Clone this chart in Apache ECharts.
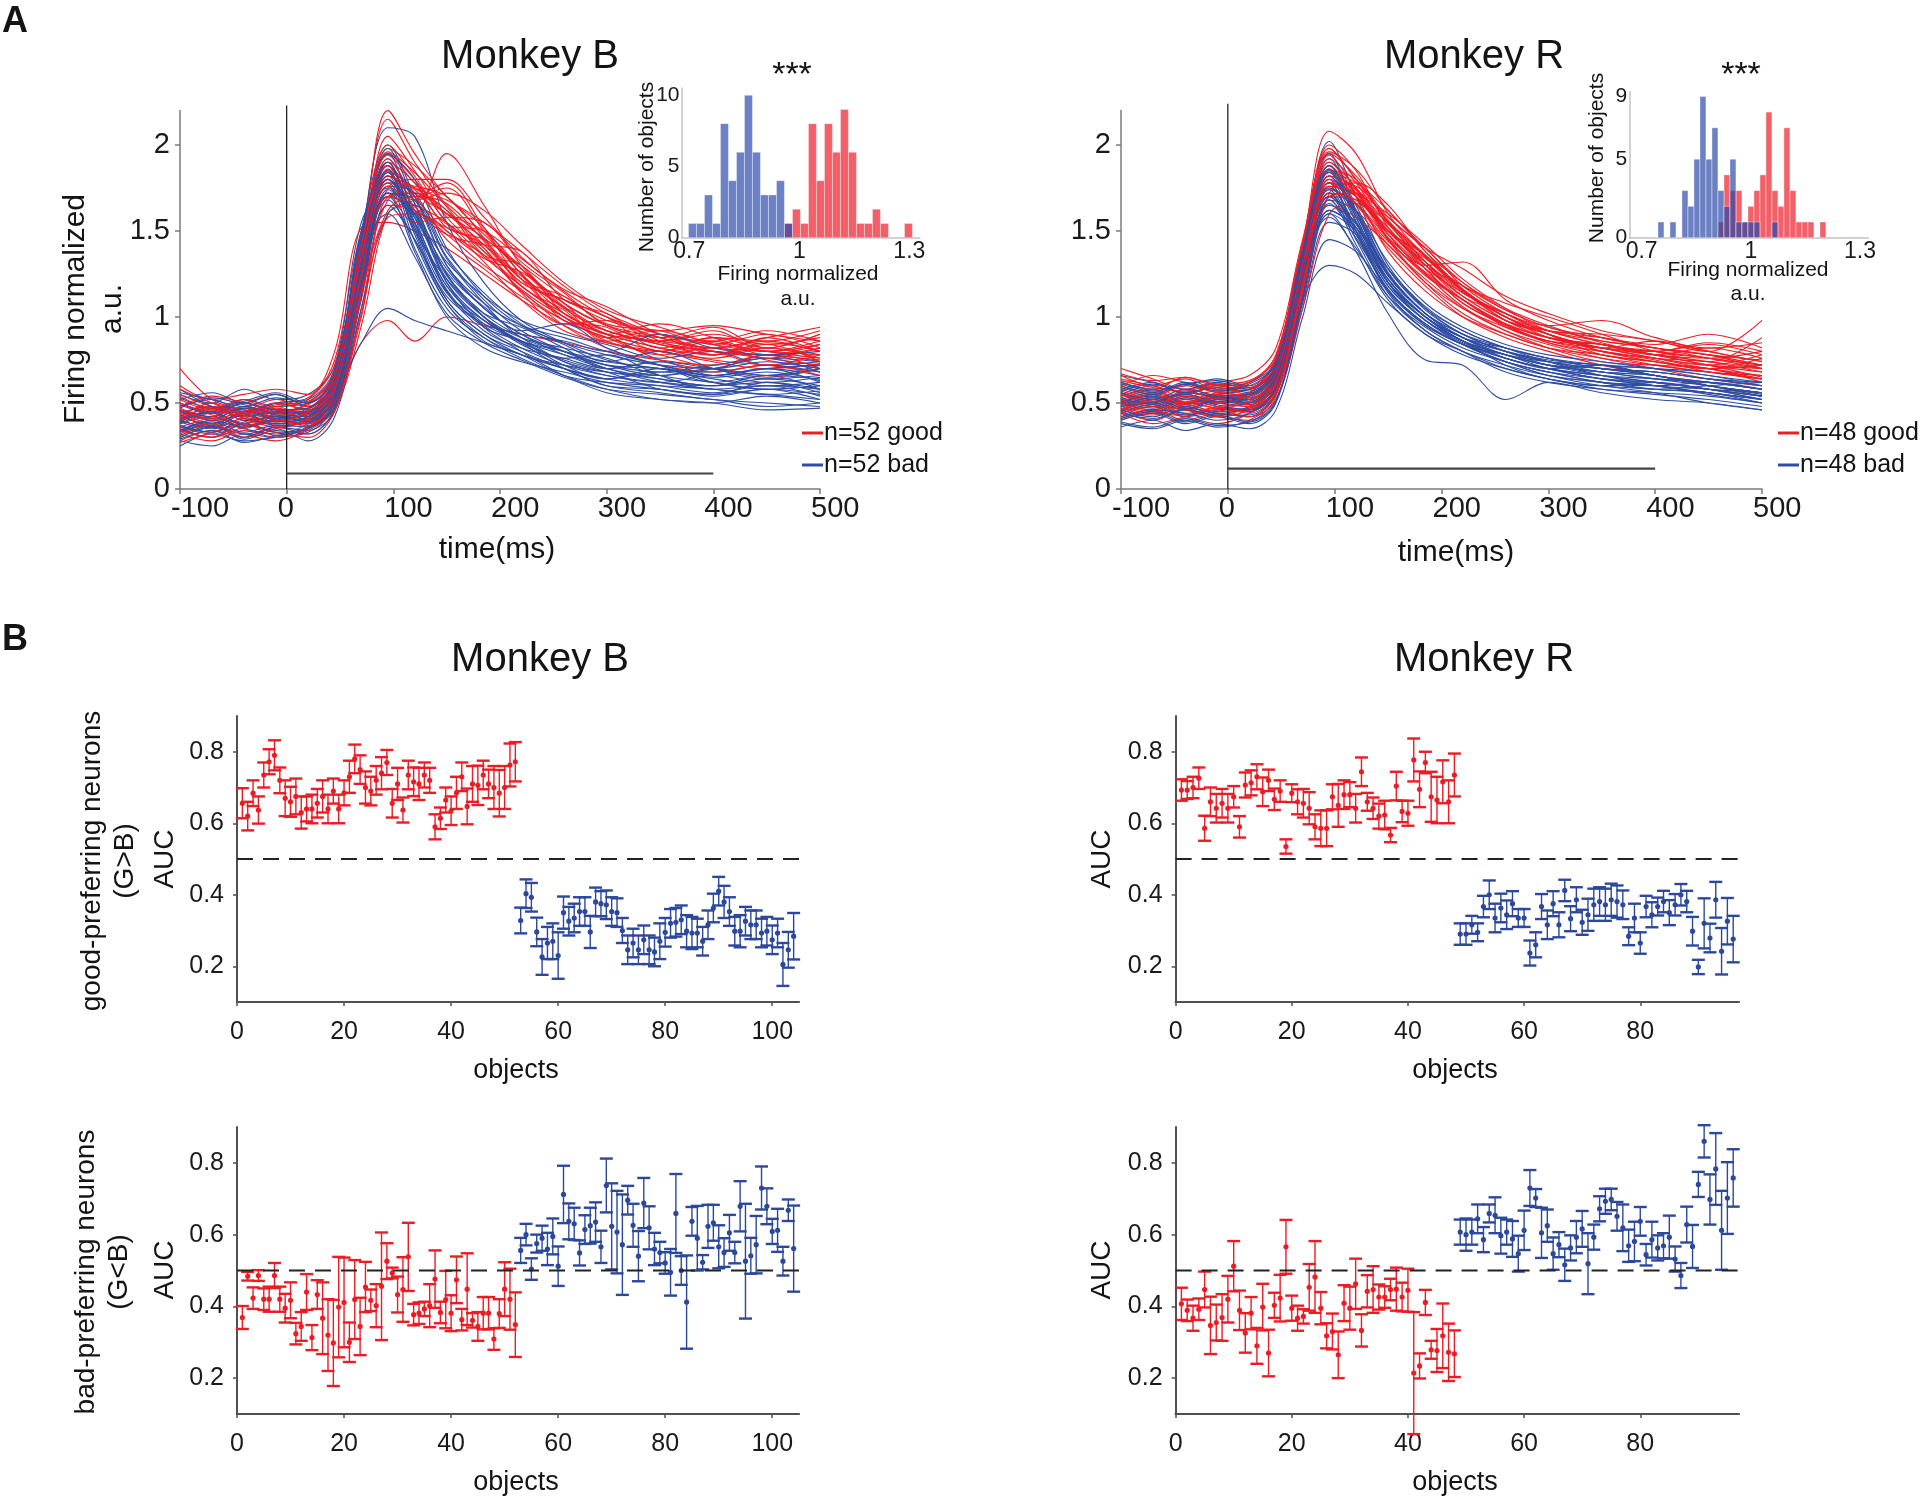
<!DOCTYPE html>
<html>
<head>
<meta charset="utf-8">
<script src="https://cdn.jsdelivr.net/npm/echarts@6/dist/echarts.min.js"></script>
<style>
html,body{margin:0;padding:0;background:#fff;}
#chart{width:1920px;height:1497px;}
</style>
</head>
<body>
<div id="chart"></div>
<script>
// ---------- DATA ----------
// time points (ms) of the firing-rate traces
const timePoints = [-100,-70,-40,-10,20,45,70,95,120,150,185,220,260,300,350,400,450,500];

// Monkey B, good-object responses (red)
const tracesGoodB = [
 [0.45,0.38,0.47,0.40,0.44,0.62,1.35,1.95,1.80,1.55,1.32,1.10,0.92,0.85,0.80,0.76,0.82,0.78],
 [0.38,0.44,0.35,0.42,0.40,0.55,1.20,1.85,1.75,1.62,1.40,1.15,0.98,0.88,0.78,0.82,0.75,0.70],
 [0.52,0.46,0.50,0.55,0.48,0.70,1.45,2.15,1.90,1.65,1.45,1.22,1.00,0.90,0.82,0.78,0.85,0.80],
 [0.30,0.36,0.32,0.28,0.35,0.48,1.05,1.70,1.72,1.60,1.50,1.28,1.05,0.92,0.85,0.80,0.76,0.72],
 [0.42,0.50,0.44,0.48,0.52,0.75,1.50,1.80,1.60,1.95,1.65,1.30,1.08,0.95,0.88,0.80,0.78,0.82],
 [0.35,0.30,0.38,0.33,0.30,0.45,0.95,1.60,1.68,1.75,1.50,1.25,1.02,0.90,0.75,0.70,0.78,0.74],
 [0.60,0.52,0.55,0.58,0.55,0.80,1.52,1.55,1.50,1.40,1.25,1.10,0.95,0.85,0.80,0.88,0.82,0.90],
 [0.40,0.45,0.42,0.38,0.42,0.58,1.30,2.05,1.85,1.58,1.38,1.18,1.02,0.90,0.82,0.75,0.72,0.68],
 [0.33,0.40,0.36,0.40,0.38,0.52,0.85,0.98,0.86,1.00,0.95,0.90,0.85,0.80,0.75,0.72,0.78,0.70],
 [0.47,0.42,0.48,0.45,0.50,0.68,1.40,1.90,1.78,1.52,1.45,1.30,1.12,1.00,0.90,0.85,0.80,0.76],
 [0.28,0.34,0.30,0.36,0.32,0.46,1.00,1.65,1.62,1.48,1.30,1.15,0.95,0.82,0.72,0.68,0.72,0.66],
 [0.50,0.44,0.52,0.46,0.45,0.64,1.38,2.20,1.95,1.70,1.52,1.25,1.05,0.92,0.86,0.90,0.84,0.88],
 [0.44,0.48,0.40,0.45,0.47,0.60,1.25,1.75,1.80,1.80,1.58,1.35,1.15,1.00,0.88,0.82,0.86,0.80],
 [0.36,0.32,0.38,0.42,0.36,0.50,1.15,1.82,1.70,1.45,1.28,1.12,0.98,0.88,0.80,0.74,0.70,0.73],
 [0.55,0.48,0.45,0.50,0.53,0.72,1.42,1.88,1.72,1.60,1.42,1.20,1.10,0.98,0.92,0.95,0.90,0.86],
 [0.40,0.36,0.44,0.37,0.39,0.54,1.18,1.70,1.65,1.55,1.35,1.18,1.00,0.86,0.78,0.70,0.65,0.70],
 [0.48,0.54,0.50,0.46,0.44,0.62,1.32,1.98,1.88,1.70,1.48,1.28,1.08,0.95,0.84,0.80,0.78,0.75],
 [0.32,0.28,0.34,0.30,0.34,0.47,1.02,1.58,1.60,1.52,1.42,1.22,1.06,0.92,0.84,0.78,0.82,0.76],
 [0.46,0.40,0.43,0.48,0.42,0.60,1.30,1.85,1.75,1.68,1.55,1.38,1.18,1.02,0.90,0.84,0.80,0.84],
 [0.70,0.52,0.46,0.44,0.50,0.66,1.36,1.92,1.70,1.50,1.36,1.16,1.00,0.90,0.86,0.82,0.80,0.78],
 [0.42,0.50,0.40,0.47,0.43,0.60,1.28,1.88,1.70,1.78,1.52,1.22,1.12,0.96,0.92,0.84,0.90,0.82],
 [0.36,0.42,0.48,0.40,0.38,0.56,1.22,1.80,1.62,1.48,1.42,1.38,1.10,1.02,0.86,0.92,0.80,0.86],
 [0.50,0.43,0.38,0.44,0.49,0.64,1.34,1.96,1.84,1.64,1.38,1.24,0.98,0.94,0.80,0.86,0.78,0.84],
 [0.32,0.38,0.30,0.35,0.40,0.55,1.26,1.78,1.76,1.70,1.46,1.18,1.04,0.86,0.90,0.78,0.84,0.74],
 [0.44,0.36,0.42,0.50,0.46,0.62,1.30,1.72,1.55,1.58,1.55,1.32,1.14,0.95,0.88,0.94,0.82,0.90],
 [0.27,0.33,0.38,0.31,0.36,0.50,1.12,1.68,1.72,1.62,1.36,1.30,1.02,0.92,0.84,0.80,0.72,0.78],
 [0.54,0.47,0.52,0.43,0.46,0.66,1.40,2.00,1.82,1.55,1.40,1.14,0.96,0.98,0.86,0.78,0.88,0.80],
 [0.39,0.46,0.41,0.36,0.41,0.56,1.24,1.76,1.68,1.72,1.62,1.42,1.20,1.04,0.94,0.86,0.92,0.86],
 [0.46,0.41,0.45,0.52,0.48,0.63,1.35,1.84,1.64,1.50,1.34,1.26,1.08,0.90,0.96,0.88,0.80,0.84],
 [0.34,0.30,0.36,0.40,0.37,0.51,1.14,1.62,1.70,1.66,1.44,1.20,1.10,1.00,0.82,0.88,0.86,0.92],
 [0.58,0.50,0.44,0.49,0.51,0.68,1.42,1.94,1.78,1.60,1.46,1.28,1.06,0.88,0.92,0.84,0.76,0.82],
 [0.41,0.47,0.43,0.39,0.45,0.58,1.27,1.82,1.74,1.54,1.50,1.34,1.16,1.06,0.90,0.82,0.88,0.94]
];
// Monkey B, bad-object responses (blue)
const tracesBadB = [
 [0.40,0.48,0.42,0.45,0.40,0.60,1.40,1.90,1.55,1.15,0.95,0.82,0.72,0.66,0.62,0.60,0.64,0.60],
 [0.35,0.30,0.38,0.33,0.36,0.52,1.25,1.80,1.60,1.20,0.98,0.85,0.75,0.68,0.58,0.55,0.58,0.55],
 [0.48,0.52,0.45,0.50,0.46,0.66,1.50,2.00,1.70,1.30,1.05,0.90,0.80,0.72,0.70,0.66,0.70,0.66],
 [0.25,0.32,0.28,0.30,0.33,0.45,1.10,1.70,1.62,1.25,1.00,0.85,0.70,0.60,0.56,0.52,0.50,0.48],
 [0.42,0.38,0.44,0.40,0.38,0.55,1.35,1.85,1.50,1.10,0.90,0.80,0.70,0.64,0.68,0.64,0.60,0.62],
 [0.55,0.50,0.58,0.52,0.55,0.72,1.55,1.75,1.40,1.05,0.88,0.78,0.72,0.68,0.66,0.70,0.66,0.72],
 [0.30,0.36,0.32,0.35,0.28,0.42,1.05,1.60,1.65,1.35,1.10,0.92,0.80,0.70,0.62,0.58,0.55,0.52],
 [0.45,0.40,0.48,0.44,0.42,0.58,1.30,1.95,1.80,1.40,1.12,0.95,0.85,0.78,0.72,0.70,0.74,0.70],
 [0.38,0.42,0.36,0.40,0.44,0.55,0.85,1.05,0.98,0.92,0.85,0.78,0.70,0.64,0.60,0.56,0.60,0.58],
 [0.50,0.45,0.52,0.48,0.50,0.65,1.45,2.10,2.05,1.55,1.20,0.98,0.85,0.75,0.70,0.68,0.72,0.68],
 [0.33,0.38,0.30,0.36,0.34,0.50,1.18,1.65,1.45,1.08,0.88,0.76,0.66,0.58,0.52,0.50,0.54,0.50],
 [0.44,0.48,0.46,0.42,0.47,0.62,1.38,1.78,1.52,1.18,0.96,0.86,0.78,0.72,0.68,0.72,0.76,0.74],
 [0.36,0.33,0.40,0.38,0.40,0.54,1.28,1.88,1.62,1.22,1.00,0.88,0.82,0.76,0.66,0.62,0.58,0.60],
 [0.52,0.56,0.50,0.55,0.48,0.64,1.42,1.70,1.38,1.00,0.82,0.74,0.68,0.62,0.58,0.55,0.62,0.58],
 [0.28,0.25,0.32,0.30,0.36,0.48,1.12,1.72,1.58,1.28,1.05,0.90,0.78,0.70,0.64,0.60,0.66,0.64],
 [0.41,0.44,0.38,0.43,0.39,0.56,1.32,1.92,1.66,1.25,1.02,0.88,0.74,0.66,0.62,0.66,0.62,0.65],
 [0.46,0.42,0.50,0.45,0.44,0.60,1.36,1.60,1.35,1.02,0.85,0.75,0.65,0.58,0.55,0.52,0.48,0.50],
 [0.34,0.40,0.35,0.32,0.38,0.52,1.22,1.82,1.70,1.30,1.08,0.95,0.88,0.80,0.72,0.66,0.70,0.72],
 [0.58,0.48,0.44,0.50,0.52,0.70,1.48,1.95,1.58,1.15,0.92,0.82,0.76,0.70,0.74,0.70,0.66,0.70],
 [0.39,0.35,0.41,0.37,0.41,0.55,1.26,1.76,1.55,1.18,0.98,0.86,0.80,0.74,0.70,0.65,0.68,0.63],
 [0.43,0.37,0.45,0.41,0.43,0.59,1.37,1.86,1.50,1.22,1.02,0.94,0.82,0.70,0.74,0.66,0.70,0.62],
 [0.31,0.37,0.29,0.34,0.32,0.47,1.14,1.74,1.60,1.32,1.12,0.98,0.90,0.84,0.76,0.80,0.72,0.74],
 [0.47,0.53,0.49,0.44,0.45,0.62,1.44,1.98,1.66,1.20,0.94,0.80,0.66,0.56,0.52,0.50,0.46,0.47],
 [0.37,0.33,0.39,0.42,0.39,0.53,1.24,1.84,1.58,1.26,1.06,0.92,0.96,0.82,0.72,0.62,0.66,0.58],
 [0.53,0.47,0.51,0.56,0.50,0.66,1.46,1.82,1.44,1.08,0.86,0.78,0.66,0.62,0.60,0.58,0.55,0.57],
 [0.29,0.34,0.27,0.31,0.35,0.48,1.16,1.76,1.72,1.38,1.14,0.96,0.84,0.74,0.80,0.70,0.64,0.66],
 [0.45,0.41,0.47,0.43,0.41,0.57,1.33,1.90,1.54,1.16,0.94,0.86,0.74,0.68,0.64,0.60,0.62,0.56],
 [0.39,0.45,0.37,0.41,0.45,0.59,1.30,1.68,1.45,1.12,0.96,0.90,0.86,0.80,0.90,0.82,0.78,0.80],
 [0.49,0.44,0.50,0.46,0.47,0.63,1.40,1.84,1.48,1.10,0.90,0.78,0.70,0.60,0.58,0.54,0.58,0.52],
 [0.34,0.39,0.33,0.37,0.36,0.51,1.20,1.72,1.68,1.34,1.08,0.88,0.80,0.72,0.66,0.70,0.76,0.68],
 [0.56,0.52,0.48,0.53,0.50,0.68,1.50,1.90,1.52,1.14,0.98,0.86,0.72,0.64,0.70,0.62,0.58,0.60],
 [0.40,0.36,0.43,0.39,0.42,0.55,1.28,1.80,1.60,1.24,1.00,0.84,0.76,0.78,0.66,0.58,0.60,0.54]
];
// Monkey R, good-object responses (red)
const tracesGoodR = [
 [0.55,0.60,0.52,0.56,0.58,0.70,1.30,1.90,1.75,1.45,1.20,1.02,0.90,0.82,0.76,0.72,0.68,0.66],
 [0.48,0.44,0.50,0.47,0.45,0.60,1.20,1.85,1.80,1.55,1.30,1.10,0.95,0.85,0.78,0.74,0.70,0.72],
 [0.62,0.58,0.65,0.60,0.62,0.78,1.42,2.08,1.95,1.60,1.35,1.15,1.00,0.90,0.82,0.80,0.85,0.80],
 [0.42,0.46,0.40,0.44,0.42,0.55,1.10,1.72,1.78,1.65,1.38,1.20,1.05,0.95,0.85,0.78,0.72,0.65],
 [0.52,0.50,0.56,0.53,0.50,0.66,1.28,1.80,1.70,1.48,1.30,1.32,1.10,0.98,0.88,0.82,0.78,0.75],
 [0.70,0.64,0.58,0.62,0.66,0.82,1.45,1.95,1.82,1.58,1.40,1.18,1.02,0.92,0.90,0.86,0.80,0.98],
 [0.45,0.40,0.46,0.42,0.40,0.54,1.12,1.68,1.62,1.40,1.18,1.00,0.88,0.80,0.72,0.66,0.62,0.58],
 [0.58,0.54,0.60,0.56,0.55,0.70,1.35,2.00,1.85,1.52,1.28,1.08,0.95,0.86,0.80,0.76,0.74,0.70],
 [0.50,0.55,0.48,0.52,0.54,0.68,1.25,1.78,1.72,1.60,1.42,1.22,1.05,0.92,0.84,0.78,0.82,0.76],
 [0.40,0.44,0.42,0.38,0.44,0.58,1.15,1.75,1.65,1.42,1.22,1.05,0.92,0.84,0.76,0.70,0.64,0.60],
 [0.60,0.66,0.62,0.58,0.60,0.74,1.38,1.92,1.78,1.50,1.32,1.15,1.02,0.95,0.98,0.88,0.82,0.85],
 [0.46,0.50,0.44,0.48,0.50,0.62,1.22,1.82,1.75,1.48,1.25,1.06,0.92,0.82,0.74,0.72,0.70,0.62],
 [0.56,0.52,0.58,0.54,0.52,0.66,1.32,1.88,1.70,1.38,1.15,1.00,0.90,0.82,0.78,0.72,0.68,0.64],
 [0.52,0.48,0.54,0.50,0.56,0.72,1.36,1.70,1.68,1.55,1.35,1.15,0.98,0.88,0.82,0.76,0.72,0.70],
 [0.44,0.38,0.42,0.46,0.42,0.52,1.05,1.60,1.66,1.50,1.30,1.12,0.98,0.90,0.80,0.74,0.70,0.76],
 [0.64,0.60,0.56,0.60,0.58,0.72,1.40,1.98,1.80,1.55,1.35,1.18,1.08,1.00,0.90,0.80,0.76,0.72],
 [0.50,0.46,0.52,0.48,0.46,0.60,1.18,1.76,1.70,1.45,1.25,1.10,0.96,0.85,0.80,0.75,0.68,0.64],
 [0.54,0.58,0.50,0.55,0.52,0.64,1.26,1.84,1.78,1.62,1.38,1.16,1.00,0.90,0.82,0.78,0.72,0.68],
 [0.48,0.52,0.55,0.50,0.48,0.62,1.24,1.65,1.58,1.42,1.20,1.05,0.94,0.86,0.82,0.80,0.76,0.72],
 [0.66,0.60,0.64,0.58,0.62,0.76,1.40,1.90,1.72,1.48,1.28,1.08,0.96,0.88,0.84,0.80,0.84,0.78],
 [0.53,0.57,0.50,0.54,0.56,0.69,1.29,1.86,1.72,1.50,1.36,1.16,0.98,0.90,0.80,0.76,0.72,0.78],
 [0.46,0.51,0.47,0.43,0.48,0.61,1.21,1.78,1.76,1.56,1.32,1.12,1.02,0.92,0.86,0.82,0.76,0.70],
 [0.60,0.55,0.61,0.57,0.58,0.73,1.37,1.94,1.74,1.46,1.24,1.10,0.94,0.86,0.84,0.78,0.74,0.68],
 [0.41,0.45,0.43,0.47,0.44,0.56,1.13,1.70,1.72,1.58,1.40,1.28,1.12,1.02,0.92,0.86,0.80,0.74],
 [0.57,0.53,0.55,0.59,0.55,0.70,1.33,1.84,1.70,1.52,1.30,1.12,0.98,0.92,0.88,0.84,0.90,0.82],
 [0.49,0.45,0.51,0.47,0.51,0.63,1.23,1.74,1.66,1.46,1.28,1.14,1.00,0.88,0.82,0.76,0.70,0.66],
 [0.63,0.59,0.57,0.61,0.59,0.75,1.41,1.96,1.86,1.62,1.40,1.20,1.04,0.94,0.86,0.82,0.78,0.72],
 [0.44,0.48,0.46,0.42,0.46,0.57,1.16,1.72,1.68,1.50,1.34,1.16,1.00,0.92,0.84,0.80,0.74,0.88],
 [0.55,0.51,0.53,0.57,0.53,0.67,1.30,1.82,1.74,1.54,1.32,1.14,1.02,0.90,0.78,0.74,0.70,0.64],
 [0.51,0.55,0.49,0.53,0.49,0.62,1.24,1.78,1.66,1.44,1.26,1.10,0.96,0.88,0.84,0.78,0.76,0.80],
 [0.67,0.63,0.65,0.61,0.63,0.78,1.43,1.98,1.80,1.56,1.36,1.16,1.00,0.90,0.82,0.86,0.80,0.74],
 [0.47,0.43,0.49,0.45,0.47,0.59,1.19,1.76,1.72,1.50,1.30,1.18,1.04,0.94,0.88,0.82,0.78,0.70]
];
// Monkey R, bad-object responses (blue)
const tracesBadR = [
 [0.50,0.55,0.48,0.52,0.50,0.64,1.30,1.80,1.55,1.20,1.00,0.88,0.78,0.72,0.68,0.66,0.60,0.55],
 [0.45,0.40,0.47,0.44,0.42,0.56,1.20,1.72,1.50,1.18,0.98,0.85,0.76,0.70,0.66,0.62,0.58,0.52],
 [0.58,0.62,0.55,0.60,0.56,0.72,1.42,2.02,1.70,1.30,1.05,0.90,0.80,0.74,0.70,0.68,0.64,0.60],
 [0.38,0.35,0.40,0.36,0.40,0.52,1.05,1.55,1.48,1.20,1.00,0.86,0.78,0.70,0.64,0.60,0.55,0.50],
 [0.52,0.48,0.54,0.50,0.52,0.66,1.32,1.85,1.60,1.25,1.02,0.88,0.80,0.75,0.72,0.70,0.66,0.62],
 [0.62,0.58,0.60,0.64,0.60,0.76,1.40,1.70,1.45,1.12,0.92,0.80,0.72,0.66,0.62,0.60,0.56,0.52],
 [0.44,0.48,0.42,0.45,0.46,0.58,1.10,1.30,1.25,1.08,0.90,0.78,0.70,0.64,0.58,0.55,0.52,0.48],
 [0.55,0.50,0.57,0.53,0.54,0.68,1.34,1.92,1.65,1.28,1.05,0.92,0.82,0.76,0.72,0.70,0.68,0.64],
 [0.48,0.52,0.46,0.50,0.48,0.62,1.26,1.60,1.38,1.02,0.75,0.72,0.52,0.62,0.56,0.52,0.50,0.46],
 [0.40,0.44,0.38,0.42,0.38,0.50,1.10,1.65,1.55,1.25,1.02,0.88,0.78,0.72,0.68,0.64,0.60,0.56],
 [0.60,0.56,0.62,0.58,0.62,0.74,1.38,1.88,1.58,1.22,1.00,0.86,0.76,0.70,0.66,0.64,0.62,0.58],
 [0.50,0.46,0.52,0.48,0.45,0.58,1.22,1.75,1.62,1.32,1.08,0.94,0.84,0.78,0.74,0.70,0.66,0.60],
 [0.54,0.58,0.50,0.55,0.58,0.70,1.36,1.68,1.42,1.10,0.90,0.80,0.70,0.64,0.60,0.62,0.58,0.54],
 [0.46,0.42,0.48,0.44,0.48,0.60,1.24,1.82,1.62,1.28,1.04,0.90,0.80,0.72,0.66,0.60,0.56,0.52],
 [0.36,0.40,0.34,0.38,0.35,0.46,1.00,1.45,1.38,1.15,0.95,0.84,0.74,0.66,0.60,0.56,0.50,0.46],
 [0.56,0.52,0.58,0.54,0.52,0.66,1.30,1.78,1.50,1.15,0.95,0.84,0.76,0.70,0.72,0.66,0.62,0.58],
 [0.52,0.56,0.50,0.53,0.55,0.68,1.33,1.72,1.48,1.16,0.96,0.84,0.74,0.68,0.62,0.58,0.60,0.62],
 [0.42,0.46,0.44,0.40,0.44,0.56,1.18,1.62,1.52,1.22,1.00,0.86,0.76,0.70,0.64,0.62,0.58,0.54],
 [0.66,0.62,0.58,0.62,0.58,0.72,1.40,1.95,1.62,1.25,1.02,0.88,0.80,0.74,0.70,0.68,0.64,0.60],
 [0.48,0.50,0.46,0.52,0.50,0.62,1.28,1.58,1.40,1.12,0.94,0.82,0.74,0.68,0.64,0.60,0.58,0.56],
 [0.51,0.54,0.49,0.53,0.51,0.65,1.31,1.78,1.52,1.20,1.00,0.86,0.78,0.72,0.70,0.66,0.60,0.56],
 [0.44,0.41,0.46,0.43,0.43,0.56,1.21,1.70,1.54,1.24,1.02,0.90,0.80,0.74,0.68,0.64,0.62,0.58],
 [0.57,0.61,0.56,0.59,0.57,0.71,1.39,1.88,1.62,1.26,1.02,0.88,0.76,0.70,0.64,0.62,0.58,0.52],
 [0.39,0.36,0.41,0.37,0.39,0.51,1.08,1.60,1.50,1.22,1.00,0.88,0.82,0.76,0.70,0.66,0.60,0.56],
 [0.53,0.49,0.55,0.51,0.53,0.67,1.33,1.82,1.58,1.20,0.98,0.84,0.74,0.68,0.62,0.60,0.62,0.58],
 [0.61,0.57,0.61,0.63,0.59,0.75,1.41,1.76,1.50,1.16,0.96,0.84,0.78,0.74,0.72,0.66,0.60,0.54],
 [0.45,0.49,0.43,0.46,0.47,0.59,1.18,1.68,1.48,1.14,0.92,0.80,0.68,0.62,0.58,0.56,0.54,0.50],
 [0.56,0.51,0.56,0.54,0.55,0.69,1.35,1.86,1.60,1.24,1.02,0.90,0.82,0.76,0.70,0.68,0.64,0.62],
 [0.49,0.53,0.47,0.51,0.49,0.63,1.27,1.74,1.50,1.18,0.98,0.86,0.72,0.64,0.60,0.58,0.56,0.50],
 [0.41,0.45,0.39,0.43,0.39,0.51,1.12,1.62,1.52,1.28,1.06,0.92,0.82,0.74,0.66,0.62,0.58,0.54],
 [0.59,0.55,0.61,0.57,0.61,0.73,1.37,1.84,1.56,1.20,0.98,0.86,0.78,0.72,0.68,0.66,0.60,0.56],
 [0.51,0.47,0.53,0.49,0.46,0.59,1.23,1.66,1.46,1.16,0.96,0.84,0.74,0.66,0.62,0.58,0.56,0.52]
];

// stimulus bar heights (a.u.)
const stimBarB = 0.09;
const stimBarR = 0.118;

// inset histograms: bin start, bin width, counts
const histBinStartB = 0.698, histBinWidthB = 0.0218;
const histBlueB = [1,1,3,1,8,4,6,10,6,3,3,4,1];
const histRedB  = [0,0,0,0,0,0,0,0,0,0,0,0,1,2,1,8,4,8,6,9,6,1,1,2,1,0,0,1];
const histBinStartR = 0.7448, histBinWidthR = 0.01649;
const histBlueR = [1,0,1,0,3,2,5,9,5,7,3,2,5,1,1,1,1,0,0,1];
const histRedR  = [0,0,0,0,0,0,0,0,0,0,1,4,3,3,1,2,3,4,8,3,2,7,3,1,1,1,0,1];

// AUC per object (mean) and error half-width
const aucGoodPrefB_red = [0.656,0.62,0.684,0.637,0.735,0.772,0.79,0.72,0.67,0.66,0.675,0.63,0.64,0.64,0.656,0.675,0.64,0.69,0.64,0.685,0.73,0.78,0.75,0.70,0.69,0.72,0.74,0.77,0.656,0.71,0.637,0.735,0.716,0.71,0.735,0.72,0.59,0.614,0.665,0.635,0.685,0.73,0.647,0.71,0.706,0.735,0.71,0.70,0.684,0.70,0.763,0.772];
const errGoodPrefB_red = [0.042,0.040,0.036,0.038,0.035,0.035,0.042,0.036,0.05,0.042,0.05,0.045,0.035,0.04,0.04,0.045,0.04,0.035,0.04,0.035,0.045,0.04,0.04,0.045,0.04,0.04,0.045,0.035,0.04,0.045,0.035,0.04,0.04,0.045,0.035,0.035,0.035,0.03,0.035,0.04,0.045,0.04,0.05,0.05,0.055,0.04,0.04,0.06,0.065,0.06,0.06,0.055];
const aucGoodPrefB_blue = [0.328,0.403,0.393,0.296,0.226,0.265,0.27,0.23,0.35,0.326,0.335,0.353,0.353,0.296,0.38,0.375,0.372,0.353,0.35,0.30,0.246,0.265,0.246,0.274,0.246,0.24,0.27,0.295,0.32,0.323,0.33,0.298,0.293,0.293,0.27,0.316,0.363,0.41,0.38,0.353,0.298,0.298,0.326,0.316,0.316,0.293,0.298,0.274,0.293,0.205,0.246,0.284];
const errGoodPrefB_blue = [0.036,0.04,0.04,0.04,0.05,0.045,0.05,0.065,0.045,0.04,0.04,0.04,0.04,0.045,0.04,0.035,0.04,0.04,0.04,0.035,0.04,0.04,0.04,0.04,0.04,0.04,0.05,0.04,0.04,0.04,0.04,0.045,0.045,0.04,0.04,0.04,0.04,0.04,0.045,0.04,0.04,0.045,0.04,0.04,0.04,0.04,0.04,0.04,0.04,0.06,0.05,0.065];
const aucGoodPrefR_red = [0.693,0.693,0.70,0.726,0.586,0.66,0.642,0.656,0.642,0.674,0.59,0.707,0.713,0.73,0.688,0.72,0.667,0.69,0.535,0.684,0.66,0.656,0.642,0.59,0.586,0.586,0.674,0.65,0.68,0.68,0.642,0.744,0.66,0.642,0.62,0.623,0.567,0.704,0.633,0.628,0.777,0.695,0.77,0.674,0.665,0.716,0.66,0.735];
const errGoodPrefR_red = [0.03,0.025,0.03,0.03,0.035,0.04,0.04,0.04,0.04,0.03,0.03,0.035,0.035,0.035,0.04,0.03,0.03,0.03,0.02,0.025,0.035,0.04,0.045,0.035,0.05,0.05,0.035,0.06,0.04,0.035,0.04,0.04,0.025,0.03,0.035,0.04,0.02,0.04,0.03,0.035,0.06,0.05,0.03,0.07,0.065,0.06,0.06,0.06];
const aucGoodPrefR_blue = [0.29,0.29,0.316,0.295,0.367,0.40,0.335,0.363,0.344,0.375,0.335,0.335,0.237,0.26,0.367,0.316,0.375,0.316,0.412,0.333,0.386,0.323,0.344,0.372,0.381,0.372,0.386,0.381,0.372,0.284,0.335,0.265,0.367,0.344,0.367,0.381,0.35,0.372,0.40,0.381,0.298,0.198,0.32,0.279,0.386,0.242,0.326,0.276];
const errGoodPrefR_blue = [0.03,0.03,0.025,0.025,0.03,0.04,0.04,0.04,0.04,0.035,0.025,0.025,0.035,0.035,0.035,0.04,0.035,0.035,0.03,0.035,0.035,0.035,0.045,0.045,0.04,0.045,0.045,0.045,0.04,0.025,0.04,0.03,0.03,0.035,0.025,0.03,0.035,0.03,0.03,0.03,0.04,0.02,0.07,0.04,0.05,0.065,0.065,0.065];
const aucBadPrefB_red = [0.369,0.484,0.423,0.486,0.42,0.42,0.486,0.42,0.395,0.417,0.324,0.344,0.44,0.313,0.433,0.367,0.32,0.298,0.398,0.411,0.30,0.419,0.344,0.454,0.417,0.402,0.456,0.526,0.493,0.433,0.447,0.538,0.377,0.381,0.393,0.402,0.476,0.383,0.419,0.381,0.474,0.363,0.448,0.361,0.344,0.381,0.381,0.309,0.38,0.448,0.42,0.349];
const errBadPrefB_red = [0.032,0.012,0.03,0.015,0.03,0.035,0.035,0.035,0.04,0.05,0.03,0.04,0.05,0.035,0.04,0.1,0.1,0.12,0.14,0.125,0.055,0.11,0.08,0.07,0.03,0.06,0.15,0.05,0.015,0.05,0.09,0.095,0.03,0.03,0.02,0.06,0.08,0.03,0.08,0.05,0.065,0.03,0.1,0.02,0.04,0.045,0.045,0.03,0.04,0.075,0.085,0.09];
const aucBadPrefB_blue = [0.556,0.60,0.504,0.575,0.59,0.56,0.595,0.512,0.712,0.637,0.63,0.549,0.614,0.625,0.635,0.566,0.737,0.623,0.607,0.572,0.696,0.626,0.54,0.688,0.619,0.56,0.55,0.521,0.495,0.659,0.50,0.412,0.637,0.59,0.523,0.623,0.633,0.566,0.55,0.605,0.55,0.679,0.526,0.541,0.572,0.73,0.679,0.609,0.612,0.526,0.668,0.561];
const errBadPrefB_blue = [0.035,0.03,0.03,0.025,0.035,0.045,0.05,0.055,0.08,0.05,0.045,0.035,0.04,0.05,0.055,0.045,0.075,0.12,0.115,0.14,0.04,0.06,0.07,0.07,0.06,0.045,0.03,0.03,0.065,0.11,0.04,0.13,0.04,0.09,0.02,0.06,0.05,0.06,0.04,0.05,0.03,0.07,0.16,0.05,0.08,0.06,0.05,0.035,0.06,0.04,0.03,0.12];
const aucBadPrefR_red = [0.407,0.389,0.367,0.392,0.447,0.347,0.355,0.369,0.42,0.512,0.389,0.326,0.381,0.29,0.398,0.27,0.403,0.423,0.566,0.395,0.367,0.372,0.453,0.482,0.395,0.318,0.33,0.265,0.409,0.395,0.463,0.333,0.442,0.447,0.426,0.426,0.447,0.448,0.426,0.445,0.214,0.234,0.411,0.279,0.277,0.318,0.272,0.268];
const errBadPrefR_red = [0.045,0.03,0.035,0.03,0.05,0.08,0.05,0.065,0.065,0.07,0.055,0.055,0.045,0.05,0.065,0.065,0.035,0.065,0.075,0.035,0.035,0.02,0.065,0.1,0.045,0.035,0.05,0.065,0.05,0.06,0.07,0.045,0.045,0.065,0.035,0.03,0.03,0.06,0.04,0.06,0.17,0.035,0.035,0.025,0.06,0.09,0.08,0.065];
const aucBadPrefR_blue = [0.607,0.60,0.607,0.644,0.586,0.659,0.654,0.597,0.607,0.588,0.547,0.612,0.73,0.702,0.605,0.625,0.547,0.572,0.516,0.563,0.593,0.616,0.519,0.593,0.672,0.693,0.698,0.651,0.619,0.569,0.581,0.637,0.544,0.586,0.563,0.569,0.593,0.532,0.486,0.628,0.567,0.74,0.86,0.698,0.783,0.612,0.702,0.758];
const errBadPrefR_blue = [0.035,0.045,0.035,0.04,0.035,0.025,0.05,0.05,0.035,0.05,0.05,0.055,0.05,0.025,0.07,0.045,0.045,0.035,0.045,0.035,0.045,0.05,0.085,0.035,0.035,0.035,0.03,0.04,0.065,0.045,0.055,0.04,0.03,0.05,0.035,0.035,0.06,0.035,0.035,0.05,0.06,0.035,0.045,0.07,0.1,0.11,0.1,0.08];

// axis ticks
const timeTicks = [-100,0,100,200,300,400,500];
const firingTicks = [0,0.5,1,1.5,2];
const histXTicks = [0.7,1,1.3];
const histYTicksB = [0,5,10];
const histYTicksR = [0,5,9];
const aucTicks = [0.2,0.4,0.6,0.8];
const objTicksB = [0,20,40,60,80,100];
const objTicksR = [0,20,40,60,80];

// ---------- CHART ----------
const FONT = '"Liberation Sans", Arial, Helvetica, sans-serif';
const RED = '#ee1c25';
const BLUE = '#2f4da3';
const ERR_RED = '#ec1c24';
const ERR_BLUE = '#2c489c';

const grids = [
  {left:180, top:110.6, width:640, height:378.4},
  {left:1121, top:110.6, width:641, height:378.4},
  {left:681.5, top:88, width:238.5, height:149.7},
  {left:1629.3, top:91.7, width:239, height:146},
  {left:237, top:716, width:562, height:286},
  {left:1175.6, top:716, width:563.4, height:286},
  {left:237, top:1127, width:562, height:287},
  {left:1175.6, top:1127, width:563.4, height:287}
].map(g => Object.assign({containLabel:false, outerBoundsMode:'none', show:false}, g));

function mainX(gi){
  return {gridIndex:gi, type:'value', min:-100, max:500,
    axisLine:{show:true, onZero:false, lineStyle:{color:'#7b7b7b', width:1.5}},
    axisTick:{show:true, length:5, customValues:timeTicks, lineStyle:{color:'#7b7b7b', width:1.5}},
    axisLabel:{customValues:timeTicks, fontSize:29, color:'#1a1a1a', margin:5, align:'left', padding:[0,0,0,-9], fontFamily:FONT},
    splitLine:{show:false}};
}
function mainY(gi){
  return {gridIndex:gi, type:'value', min:0, max:2.2,
    axisLine:{show:true, onZero:false, lineStyle:{color:'#7b7b7b', width:1.5}},
    axisTick:{show:true, length:5, customValues:firingTicks, lineStyle:{color:'#7b7b7b', width:1.5}},
    axisLabel:{customValues:firingTicks, fontSize:29, color:'#1a1a1a', margin:10, padding:[0,0,6,0], fontFamily:FONT},
    splitLine:{show:false}};
}
function insetX(gi, min, max){
  return {gridIndex:gi, type:'value', min:min, max:max,
    axisLine:{show:true, onZero:false, lineStyle:{color:'#c4c4c4', width:1.5}},
    axisTick:{show:false},
    axisLabel:{customValues:histXTicks, fontSize:23, color:'#1a1a1a', margin:2, fontFamily:FONT},
    splitLine:{show:false}};
}
function insetY(gi, max, ticks){
  return {gridIndex:gi, type:'value', min:0, max:max,
    axisLine:{show:true, onZero:false, lineStyle:{color:'#c4c4c4', width:1.5}},
    axisTick:{show:false},
    axisLabel:{customValues:ticks, fontSize:21, color:'#1a1a1a', margin:2, fontFamily:FONT},
    splitLine:{show:false}};
}
function aucX(gi, max, ticks){
  return {gridIndex:gi, type:'value', min:0, max:max,
    axisLine:{show:true, onZero:false, lineStyle:{color:'#505050', width:2.2}},
    axisTick:{show:true, length:4, customValues:ticks, lineStyle:{color:'#505050', width:1.5}},
    axisLabel:{customValues:ticks, fontSize:25, color:'#1a1a1a', margin:18, fontFamily:FONT},
    splitLine:{show:false}};
}
function aucY(gi){
  return {gridIndex:gi, type:'value', min:0.1, max:0.9,
    axisLine:{show:true, onZero:false, lineStyle:{color:'#505050', width:2}},
    axisTick:{show:true, length:4, customValues:aucTicks, lineStyle:{color:'#505050', width:1.5}},
    axisLabel:{customValues:aucTicks, fontSize:25, color:'#1a1a1a', margin:13, fontFamily:FONT},
    splitLine:{show:false}};
}

const xAxes = [mainX(0), mainX(1), insetX(2,0.679,1.329), insetX(3,0.666,1.323),
  aucX(4,105,objTicksB), aucX(5,97,objTicksR), aucX(6,105,objTicksB), aucX(7,97,objTicksR)];
const yAxes = [mainY(0), mainY(1), insetY(2,10.5,histYTicksB), insetY(3,9.3,histYTicksR),
  aucY(4), aucY(5), aucY(6), aucY(7)];

const series = [];

function traceSeries(vals, color, ax){
  return {type:'line', xAxisIndex:ax, yAxisIndex:ax, silent:true, animation:false,
    data: vals.map((y,j)=>[timePoints[j], y]),
    smooth:0.35, showSymbol:false, symbol:'none',
    lineStyle:{color:color, width:1.1}, z:2};
}
function addTraces(goodArr, badArr, ax){
  const n = Math.max(goodArr.length, badArr.length);
  for (let i=0;i<n;i++){
    if (goodArr[i]) series.push(traceSeries(goodArr[i], RED, ax));
    if (badArr[i]) series.push(traceSeries(badArr[i], BLUE, ax));
  }
}
addTraces(tracesGoodB, tracesBadB, 0);
addTraces(tracesGoodR, tracesBadR, 1);

function refLine(ax, pts, color, width, type){
  return {type:'line', xAxisIndex:ax, yAxisIndex:ax, silent:true, animation:false,
    data:pts, showSymbol:false, symbol:'none', clip:false,
    lineStyle:{color:color, width:width, type:type||'solid'}, z:5};
}
series.push(refLine(0, [[0,0],[0,2.23]], '#111', 1.2));
series.push(refLine(1, [[0,0],[0,2.24]], '#111', 1.2));
series.push(refLine(0, [[0,stimBarB],[400,stimBarB]], '#444', 2.2));
series.push(refLine(1, [[0,stimBarR],[400,stimBarR]], '#444', 2.2));

function histData(start, width, counts){
  const out = [];
  counts.forEach((c,k)=>{ if (c>0) out.push([start+k*width, start+(k+1)*width, c]); });
  return out;
}
function histRender(params, api){
  const x0 = api.value(0), x1 = api.value(1), c = api.value(2);
  const p0 = api.coord([x0, c]);
  const p1 = api.coord([x1, 0]);
  return {type:'rect', shape:{x:p0[0], y:p0[1], width:p1[0]-p0[0], height:p1[1]-p0[1]},
    style:{fill:api.visual('color'), stroke:'rgba(255,255,255,0.5)', lineWidth:0.8}};
}
function histSeries(ax, start, width, counts, color){
  return {type:'custom', xAxisIndex:ax, yAxisIndex:ax, silent:true, animation:false,
    renderItem:histRender, encode:{x:[0,1], y:2},
    data:histData(start, width, counts), itemStyle:{color:color}, z:3};
}
series.push(histSeries(2, histBinStartB, histBinWidthB, histRedB, 'rgba(236,22,34,0.68)'));
series.push(histSeries(2, histBinStartB, histBinWidthB, histBlueB, 'rgba(38,68,168,0.68)'));
series.push(histSeries(3, histBinStartR, histBinWidthR, histRedR, 'rgba(236,22,34,0.68)'));
series.push(histSeries(3, histBinStartR, histBinWidthR, histBlueR, 'rgba(38,68,168,0.68)'));

series.push(refLine(4, [[0,0.5],[105,0.5]], '#222', 2, [16,10]));
series.push(refLine(5, [[0,0.5],[97,0.5]], '#222', 2, [16,10]));
series.push(refLine(6, [[0,0.5],[105,0.5]], '#222', 2, [16,10]));
series.push(refLine(7, [[0,0.5],[97,0.5]], '#222', 2, [16,10]));

function errRender(params, api){
  const x = api.value(0), v = api.value(1), e = api.value(2);
  const t = api.coord([x, v+e]), b = api.coord([x, v-e]), c = api.coord([x, v]);
  const hw = 6.5, color = api.visual('color');
  return {type:'group', children:[
    {type:'line', shape:{x1:t[0], y1:t[1], x2:b[0], y2:b[1]}, style:{stroke:color, lineWidth:1.4}},
    {type:'line', shape:{x1:t[0]-hw, y1:t[1], x2:t[0]+hw, y2:t[1]}, style:{stroke:color, lineWidth:2.4}},
    {type:'line', shape:{x1:b[0]-hw, y1:b[1], x2:b[0]+hw, y2:b[1]}, style:{stroke:color, lineWidth:2.4}},
    {type:'circle', shape:{cx:c[0], cy:c[1], r:2.6}, style:{fill:color}}
  ]};
}
function errSeries(ax, vals, errs, startIdx, color){
  return {type:'custom', xAxisIndex:ax, yAxisIndex:ax, silent:true, animation:false,
    renderItem:errRender, encode:{x:0, y:1}, clip:false,
    data: vals.map((v,i)=>[startIdx+i, v, errs[i]]), itemStyle:{color:color}, z:4};
}
series.push(errSeries(4, aucGoodPrefB_red, errGoodPrefB_red, 1, ERR_RED));
series.push(errSeries(4, aucGoodPrefB_blue, errGoodPrefB_blue, 53, ERR_BLUE));
series.push(errSeries(5, aucGoodPrefR_red, errGoodPrefR_red, 1, ERR_RED));
series.push(errSeries(5, aucGoodPrefR_blue, errGoodPrefR_blue, 49, ERR_BLUE));
series.push(errSeries(6, aucBadPrefB_red, errBadPrefB_red, 1, ERR_RED));
series.push(errSeries(6, aucBadPrefB_blue, errBadPrefB_blue, 53, ERR_BLUE));
series.push(errSeries(7, aucBadPrefR_red, errBadPrefR_red, 1, ERR_RED));
series.push(errSeries(7, aucBadPrefR_blue, errBadPrefR_blue, 49, ERR_BLUE));

// ---------- TEXT ----------
function txt(text, x, y, size, opts){
  opts = opts || {};
  return {type:'text', x:x, y:y, rotation:opts.rot||0, silent:true, z:10,
    style:{text:text, fontSize:size, fontFamily:FONT, fontWeight:opts.weight||'normal',
      fill:opts.color||'#141414', align:opts.align||'center', verticalAlign:'middle'}};
}
function seg(x1,y1,x2,y2,color,w){
  return {type:'line', silent:true, z:10, shape:{x1:x1,y1:y1,x2:x2,y2:y2}, style:{stroke:color, lineWidth:w}};
}
const R90 = Math.PI/2;
const graphics = [
  txt('A', 2, 22, 36, {align:'left', weight:'bold'}),
  txt('B', 2, 640, 36, {align:'left', weight:'bold'}),
  txt('Monkey B', 530, 57, 40),
  txt('Monkey R', 1474, 57, 40),
  txt('Monkey B', 540, 660, 40),
  txt('Monkey R', 1484, 660, 40),
  txt('***', 792, 76, 34),
  txt('***', 1741, 76, 34),
  txt('Firing normalized', 76, 309, 30, {rot:R90}),
  txt('a.u.', 113, 309, 30, {rot:R90}),
  txt('time(ms)', 497, 550, 30),
  txt('time(ms)', 1456, 553, 30),
  txt('Number of objects', 647, 167, 21, {rot:R90}),
  txt('Number of objects', 1597, 158, 21, {rot:R90}),
  txt('Firing normalized', 798, 274, 21),
  txt('a.u.', 798, 299, 21),
  txt('Firing normalized', 1748, 270, 21),
  txt('a.u.', 1748, 294, 21),
  seg(802, 433, 823, 433, RED, 3),
  seg(802, 465, 823, 465, BLUE, 3),
  txt('n=52 good', 824, 433, 25, {align:'left'}),
  txt('n=52 bad', 824, 465, 25, {align:'left'}),
  seg(1778, 433, 1799, 433, RED, 3),
  seg(1778, 465, 1799, 465, BLUE, 3),
  txt('n=48 good', 1800, 433, 25, {align:'left'}),
  txt('n=48 bad', 1800, 465, 25, {align:'left'}),
  txt('good-preferring neurons', 92, 861, 28, {rot:R90}),
  txt('(G>B)', 125, 861, 28, {rot:R90}),
  txt('AUC', 165, 859, 28, {rot:R90}),
  txt('bad-preferring neurons', 86, 1272, 28, {rot:R90}),
  txt('(G<B)', 119, 1272, 28, {rot:R90}),
  txt('AUC', 165, 1270, 28, {rot:R90}),
  txt('AUC', 1102, 859, 28, {rot:R90}),
  txt('AUC', 1102, 1270, 28, {rot:R90}),
  txt('objects', 516, 1071, 27),
  txt('objects', 1455, 1071, 27),
  txt('objects', 516, 1483, 27),
  txt('objects', 1455, 1483, 27)
];

const chart = echarts.init(document.getElementById('chart'), null, {renderer:'canvas'});
chart.setOption({
  animation:false,
  backgroundColor:'#ffffff',
  textStyle:{fontFamily:FONT},
  grid:grids,
  xAxis:xAxes,
  yAxis:yAxes,
  series:series,
  graphic:{elements:graphics}
});
</script>
</body>
</html>
